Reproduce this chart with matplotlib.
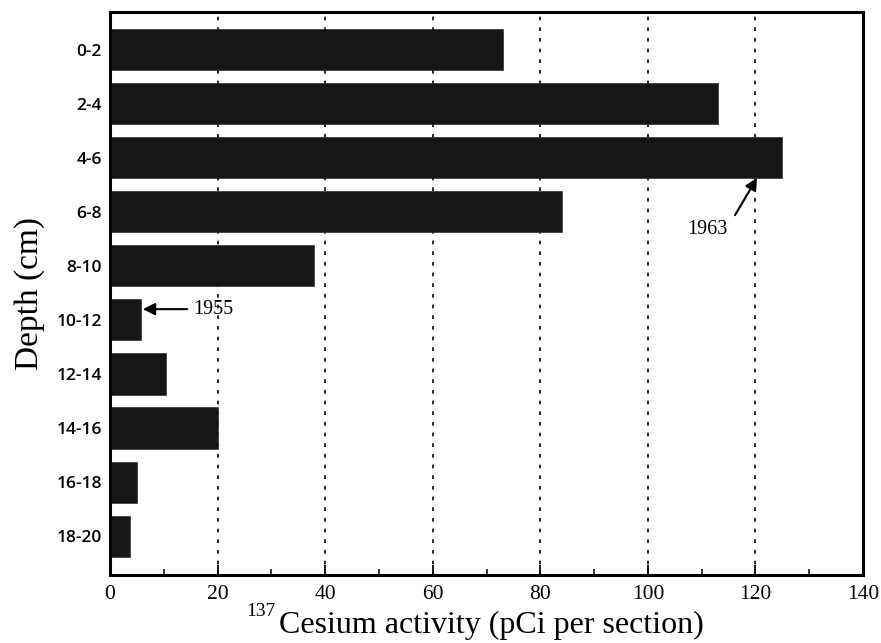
import matplotlib
matplotlib.use("Agg")
import matplotlib.pyplot as plt
from matplotlib.ticker import MultipleLocator

depths = ["0-2", "2-4", "4-6", "6-8", "8-10", "10-12", "12-14", "14-16", "16-18", "18-20"]
activity = [73, 113, 125, 84, 38, 5.8, 10.4, 20, 5.1, 3.8]
grid_x = [20, 40, 60, 80, 100, 120]

plt.rcParams['font.family'] = ['Liberation Serif', 'DejaVu Serif']

W, H = 881, 643
fig = plt.figure(figsize=(W / 100, H / 100), dpi=100)
ax = fig.add_axes([0.1249, 0.1058, 0.9796 - 0.1249, 0.9813 - 0.1058])

ypos = list(range(len(depths)))
for gx in grid_x:
    ax.axvline(gx, color='black', linestyle=(0, (2.2, 4.2)), linewidth=1.2, zorder=1)
ax.barh(ypos, activity, height=0.76, color='#161616', edgecolor='#303030', linewidth=0.5, zorder=2)

ax.set_xlim(0, 140)
ax.set_ylim(9.72, -0.7)
ax.set_yticks(ypos)
ax.set_yticklabels(depths, fontfamily='Open Sans', fontsize=12.5, fontweight='semibold')
ax.tick_params(axis='y', length=0, pad=6)
ax.xaxis.set_major_locator(MultipleLocator(20))
ax.xaxis.set_minor_locator(MultipleLocator(10))
ax.tick_params(axis='x', which='major', direction='in', length=7, width=1.3, labelsize=15.5, pad=7)
ax.tick_params(axis='x', which='minor', direction='in', length=4, width=1.1)
for s in ax.spines.values():
    s.set_linewidth(2.2)

# x-axis label with separate superscript mass number
fig.text(246 / W, 1 - 611 / H, "137", fontsize=14, ha='left', va='center')
fig.text(279 / W, 1 - 633 / H, "Cesium activity (pCi per section)", fontsize=23, ha='left', va='baseline')
ax.set_ylabel("Depth (cm)", fontsize=24, labelpad=8)

ax.annotate("1955", xy=(6.1, 4.8), xytext=(15.4, 4.8), fontsize=14.5, va='center', ha='left',
            arrowprops=dict(arrowstyle='-|>', color='black', lw=1.5, mutation_scale=18, shrinkA=2, shrinkB=0))
ax.annotate("", xy=(120.3, 2.37), xytext=(116.2, 3.06),
            arrowprops=dict(arrowstyle='-|>', color='black', lw=1.5, mutation_scale=18, shrinkA=0, shrinkB=0))
ax.text(111, 3.33, "1963", fontsize=14.5, ha='center', va='center')

fig.savefig("out.png", dpi=100)
